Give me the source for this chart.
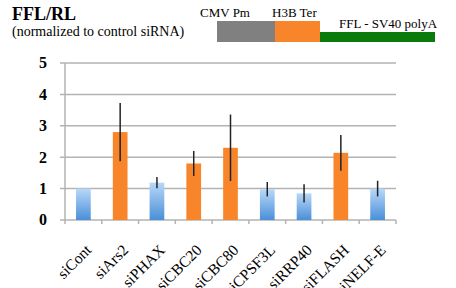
<!DOCTYPE html>
<html>
<head>
<meta charset="utf-8">
<script src="https://cdn.jsdelivr.net/npm/d3@7"></script>
<style>
  body { margin: 0; background: #fff; }
</style>
</head>
<body>
<div id="wrapper"></div>
<script>
const categories = ["siCont", "siArs2", "siPHAX", "siCBC20", "siCBC80", "siCPSF3L", "siRRP40", "siFLASH", "siNELF-E"];
const values = [1.0, 2.8, 1.19, 1.8, 2.3, 0.98, 0.85, 2.14, 1.0];
const errors = [0, 0.93, 0.18, 0.4, 1.06, 0.23, 0.29, 0.57, 0.25];
const upregulated = [false, true, false, true, true, false, false, true, false];
const yTicks = [0, 1, 2, 3, 4, 5];
const constructParts = ["CMV Pm", "H3B Ter", "FFL - SV40 polyA"];

const serif = "'Liberation Serif', 'Times New Roman', Times, serif";

function drawChart() {
  const width = 456;
  const height = 288;
  const margin = { left: 65, right: 60, top: 63, bottom: 68 };

  const svg = d3
    .select("#wrapper")
    .append("svg")
    .attr("width", width)
    .attr("height", height)
    .attr("font-family", serif);

  const defs = svg.append("defs");
  const grad = defs
    .append("linearGradient")
    .attr("id", "blueGrad")
    .attr("x1", 0).attr("y1", 0).attr("x2", 0).attr("y2", 1);
  grad.append("stop").attr("offset", "0%").attr("stop-color", "#b8d8f8");
  grad.append("stop").attr("offset", "100%").attr("stop-color", "#4a8fd8");

  const x = d3
    .scaleBand()
    .domain(categories)
    .range([margin.left, width - margin.right])
    .paddingInner(0.6)
    .paddingOuter(0.3);

  const y = d3
    .scaleLinear()
    .domain([0, 5])
    .range([height - margin.bottom, margin.top]);

  // gridlines
  svg
    .append("g")
    .selectAll("line")
    .data(yTicks)
    .join("line")
    .attr("x1", margin.left - 5)
    .attr("x2", width - margin.right)
    .attr("y1", (d) => y(d))
    .attr("y2", (d) => y(d))
    .attr("stroke", "#b3b3b3")
    .attr("stroke-width", 1.5);

  // y axis line
  svg
    .append("line")
    .attr("x1", margin.left)
    .attr("x2", margin.left)
    .attr("y1", y(5))
    .attr("y2", y(0))
    .attr("stroke", "#b3b3b3")
    .attr("stroke-width", 1.5);

  // y labels
  svg
    .append("g")
    .selectAll("text")
    .data(yTicks)
    .join("text")
    .attr("x", 47)
    .attr("y", (d) => y(d))
    .attr("dy", "0.34em")
    .attr("text-anchor", "end")
    .attr("font-size", 16)
    .attr("font-weight", "bold")
    .attr("font-family", serif)
    .text((d) => d);

  // x ticks at band boundaries
  const step = x.step();
  const bounds0 = x.range()[0];
  svg
    .append("g")
    .selectAll("line")
    .data(d3.range(categories.length + 1))
    .join("line")
    .attr("x1", (i) => bounds0 + i * step)
    .attr("x2", (i) => bounds0 + i * step)
    .attr("y1", y(0))
    .attr("y2", y(0) + 4)
    .attr("stroke", "#b3b3b3")
    .attr("stroke-width", 1.5);

  // bars
  svg
    .append("g")
    .selectAll("rect")
    .data(categories)
    .join("rect")
    .attr("x", (d) => x(d))
    .attr("width", x.bandwidth())
    .attr("y", (d, i) => y(values[i]))
    .attr("height", (d, i) => y(0) - y(values[i]))
    .attr("fill", (d, i) => (upregulated[i] ? "#f8852a" : "url(#blueGrad)"));

  // error bars
  svg
    .append("g")
    .selectAll("line")
    .data(categories.filter((d, i) => errors[i] > 0))
    .join("line")
    .attr("x1", (d) => x(d) + x.bandwidth() / 2)
    .attr("x2", (d) => x(d) + x.bandwidth() / 2)
    .attr("y1", (d) => {
      const i = categories.indexOf(d);
      return y(values[i] + errors[i]);
    })
    .attr("y2", (d) => {
      const i = categories.indexOf(d);
      return y(values[i] - errors[i]);
    })
    .attr("stroke", "#222")
    .attr("stroke-width", 1.5);

  // x labels (the bottom ones run off the picture, as in the original)
  svg
    .append("g")
    .selectAll("text")
    .data(categories)
    .join("text")
    .attr("text-anchor", "end")
    .attr("font-size", 15.5)
    .attr("font-family", serif)
    .attr(
      "transform",
      (d) => `translate(${x(d) + x.bandwidth() / 2 + 9}, ${y(0) + 31}) rotate(-45)`
    )
    .text((d) => d);

  // title
  svg
    .append("text")
    .attr("x", 12)
    .attr("y", 20)
    .attr("font-size", 18)
    .attr("font-weight", "bold")
    .attr("font-family", serif)
    .text("FFL/RL");
  svg
    .append("text")
    .attr("x", 12)
    .attr("y", 36)
    .attr("font-size", 14)
    .attr("font-family", serif)
    .text("(normalized to control siRNA)");

  // construct diagram
  const construct = svg.append("g");
  construct.append("rect").attr("x", 217).attr("y", 21).attr("width", 58).attr("height", 21).attr("fill", "#808080");
  construct.append("rect").attr("x", 275).attr("y", 21).attr("width", 45).attr("height", 21).attr("fill", "#f8852a");
  construct.append("rect").attr("x", 320).attr("y", 32).attr("width", 115).attr("height", 10).attr("fill", "#0a7a0a");

  const labelPos = [
    [200, 17],
    [272, 17],
    [339, 28],
  ];
  construct
    .selectAll("text")
    .data(constructParts)
    .join("text")
    .attr("x", (d, i) => labelPos[i][0])
    .attr("y", (d, i) => labelPos[i][1])
    .attr("font-size", 13)
    .attr("font-family", serif)
    .text((d) => d);
}

drawChart();
</script>
</body>
</html>
